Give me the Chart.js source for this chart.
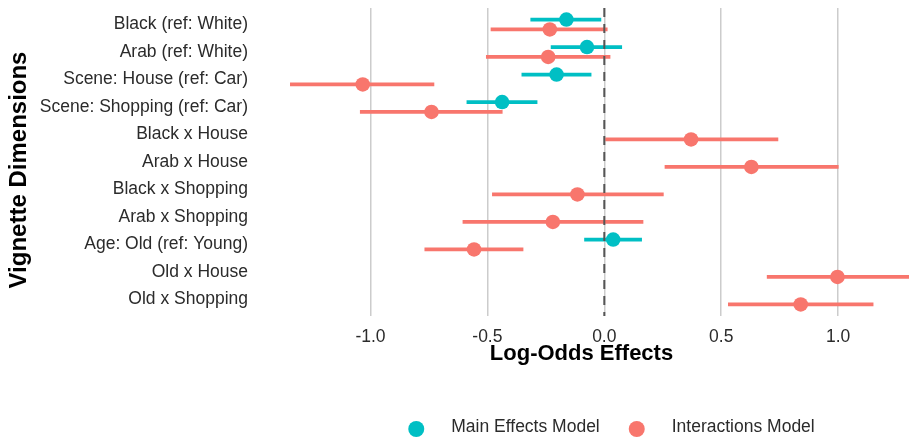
<!DOCTYPE html>
<html>
<head>
<meta charset="utf-8">
<style>
  html, body { margin: 0; padding: 0; background: #ffffff; overflow: hidden; }
  #wrap { width: 909px; height: 439px; position: relative; }
</style>
<script src="https://cdn.jsdelivr.net/npm/chart.js@4.4.1/dist/chart.umd.min.js"></script>
</head>
<body>
<div id="wrap"><canvas id="c" width="909" height="439"></canvas></div>
<script>
// ---------- data ----------
const categories = [
  "Black (ref: White)",
  "Arab (ref: White)",
  "Scene: House (ref: Car)",
  "Scene: Shopping (ref: Car)",
  "Black x House",
  "Arab x House",
  "Black x Shopping",
  "Arab x Shopping",
  "Age: Old (ref: Young)",
  "Old x House",
  "Old x Shopping"
];
const mainEst = [-0.162, -0.074, -0.204, -0.437, null, null, null, null, 0.038, null, null];
const mainLo  = [-0.316, -0.229, -0.354, -0.589, null, null, null, null, -0.086, null, null];
const mainHi  = [-0.013,  0.076, -0.055, -0.286, null, null, null, null, 0.161, null, null];

const intEst = [-0.233, -0.240, -1.033, -0.739, 0.371, 0.629, -0.115, -0.220, -0.557, 0.997, 0.840];
const intLo  = [-0.486, -0.506, -1.344, -1.045, 0.004, 0.258, -0.480, -0.606, -0.769, 0.695, 0.529];
const intHi  = [ 0.014,  0.026, -0.727, -0.435, 0.744, 1.002,  0.254,  0.167, -0.346, 1.350, 1.151];

const xTicks = [-1.0, -0.5, 0.0, 0.5, 1.0];
const seriesNames = ["Main Effects Model", "Interactions Model"];
const seriesColors = ["#00BFC4", "#F8766D"];

// ---------- styling ----------
const FONT = "'Liberation Sans', Arial, Helvetica, sans-serif";
const DODGE = 0.18;
const TEXT = "#2b2b2b";

function pointData(est, off) {
  const out = [];
  est.forEach((v, i) => { if (v !== null) out.push({ x: v, y: i + off }); });
  return out;
}
function rangeData(lo, hi, off) {
  const out = [];
  lo.forEach((l, i) => {
    if (l === null) return;
    out.push({ x: l, y: i + off }, { x: hi[i], y: i + off }, { x: NaN, y: NaN });
  });
  return out;
}

const zeroLine = {
  id: 'zeroLine',
  afterDatasetsDraw(chart) {
    const { ctx, chartArea, scales } = chart;
    const x = scales.x.getPixelForValue(0);
    ctx.save();
    ctx.strokeStyle = '#555555';
    ctx.lineWidth = 2;
    ctx.setLineDash([9, 7]);
    ctx.beginPath();
    ctx.moveTo(x, chartArea.top);
    ctx.lineTo(x, chartArea.bottom);
    ctx.stroke();
    ctx.restore();
  }
};

const yTitle = {
  id: 'yTitle',
  afterDraw(chart) {
    const { ctx, chartArea } = chart;
    ctx.save();
    ctx.translate(19, (chartArea.top + chartArea.bottom) / 2 + 8);
    ctx.rotate(-Math.PI / 2);
    ctx.font = "bold 24px " + FONT;
    ctx.fillStyle = '#000000';
    ctx.textAlign = 'center';
    ctx.textBaseline = 'middle';
    ctx.fillText('Vignette Dimensions', 0, 0);
    ctx.restore();
  }
};

const bottomLegend = {
  id: 'bottomLegend',
  afterDraw(chart) {
    const { ctx } = chart;
    const r = 8, gapText = 27, gapItem = 29, cy = 429;
    ctx.save();
    ctx.font = "17.5px " + FONT;
    const widths = seriesNames.map(t => ctx.measureText(t).width);
    let total = 0;
    widths.forEach((w, i) => { total += 2 * r + gapText + w + (i < widths.length - 1 ? gapItem : 0); });
    let x = 611.5 - total / 2;
    seriesNames.forEach((name, i) => {
      ctx.fillStyle = seriesColors[i];
      ctx.beginPath();
      ctx.arc(x + r, cy, r, 0, Math.PI * 2);
      ctx.fill();
      x += 2 * r + gapText;
      ctx.fillStyle = TEXT;
      ctx.textAlign = 'left';
      ctx.textBaseline = 'middle';
      ctx.fillText(name, x, cy - 2);
      x += widths[i] + gapItem;
    });
    ctx.restore();
  }
};

new Chart(document.getElementById('c'), {
  type: 'scatter',
  data: {
    datasets: [
      {
        label: seriesNames[0],
        data: pointData(mainEst, -DODGE),
        backgroundColor: seriesColors[0],
        borderWidth: 0,
        pointRadius: 7.3,
        order: 0
      },
      {
        label: seriesNames[1],
        data: pointData(intEst, DODGE),
        backgroundColor: seriesColors[1],
        borderWidth: 0,
        pointRadius: 7.3,
        order: 1
      },
      {
        label: seriesNames[0] + ' CI',
        data: rangeData(mainLo, mainHi, -DODGE),
        showLine: true,
        spanGaps: false,
        borderColor: seriesColors[0],
        borderWidth: 3.8,
        pointRadius: 0,
        order: 2
      },
      {
        label: seriesNames[1] + ' CI',
        data: rangeData(intLo, intHi, DODGE),
        showLine: true,
        spanGaps: false,
        borderColor: seriesColors[1],
        borderWidth: 3.8,
        pointRadius: 0,
        order: 3
      }
    ]
  },
  options: {
    responsive: false,
    animation: false,
    devicePixelRatio: 1,
    layout: { autoPadding: false, padding: { top: 8, right: 0, bottom: 72, left: 0 } },
    plugins: {
      legend: { display: false },
      tooltip: { enabled: false }
    },
    scales: {
      x: {
        type: 'linear',
        position: 'bottom',
        min: -1.498,
        max: 1.303,
        afterBuildTicks: s => { s.ticks = xTicks.map(v => ({ value: v })); },
        afterFit: s => { s.height = 51; s.paddingLeft = 0; s.paddingRight = 0; },
        ticks: {
          callback: v => Number(v).toFixed(1),
          font: { family: FONT, size: 17.5 },
          color: TEXT,
          padding: 11,
          maxRotation: 0,
          autoSkip: false
        },
        grid: { color: '#cccccc', lineWidth: 1.5, drawTicks: false },
        border: { display: false },
        title: {
          display: true,
          text: 'Log-Odds Effects',
          font: { family: FONT, size: 22, weight: 'bold' },
          color: '#000000',
          padding: { top: 0, bottom: 0 }
        }
      },
      y: {
        type: 'linear',
        min: -0.6,
        max: 10.6,
        reverse: true,
        afterBuildTicks: s => { s.ticks = categories.map((_, i) => ({ value: i })); },
        afterFit: s => { s.width = 254; s.paddingTop = 0; s.paddingBottom = 0; },
        ticks: {
          callback: v => categories[v],
          font: { family: FONT, size: 17.5 },
          color: TEXT,
          padding: 6,
          autoSkip: false
        },
        grid: { display: false, drawTicks: false },
        border: { display: false }
      }
    }
  },
  plugins: [zeroLine, yTitle, bottomLegend]
});
</script>
</body>
</html>
